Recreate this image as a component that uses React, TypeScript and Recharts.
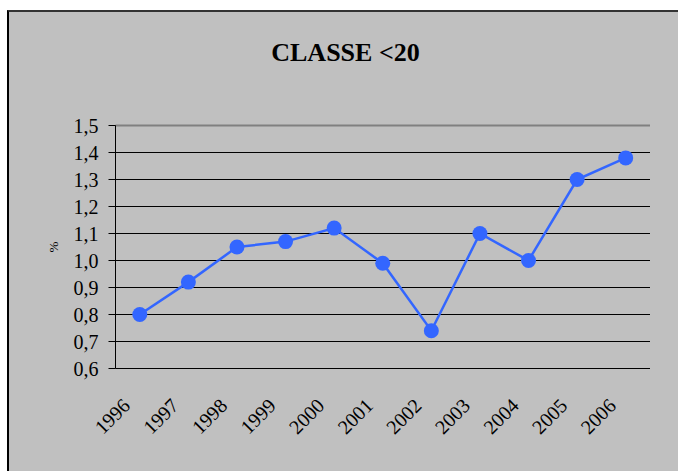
import {
	CartesianGrid,
	ComposedChart,
	Label,
	Line,
	ReferenceLine,
	XAxis,
	YAxis,
} from 'recharts';

const title = 'CLASSE <20';
const unit = '%';
const years = ['1996', '1997', '1998', '1999', '2000', '2001', '2002', '2003', '2004', '2005', '2006'];
const values = [0.8, 0.92, 1.05, 1.07, 1.12, 0.99, 0.74, 1.1, 1.0, 1.3, 1.38];
const yTicks = [0.6, 0.7, 0.8, 0.9, 1.0, 1.1, 1.2, 1.3, 1.4, 1.5];

const data = years.map((year, i) => ({ year, value: values[i] }));
// category boundaries, Excel puts its tick marks between the years
const bounds = years.map((_, i) => i).concat(years.length);

const serif = '"Liberation Serif", "Times New Roman", serif';
const blue = '#3366ff';

const YearTick = ({ x, y, payload }: any) => (
	<g transform={`translate(${x - 8.5},${y + 38.5}) rotate(-45)`}>
		<text textAnchor='end' fontFamily={serif} fontSize={20} fill='#000'>
			{payload.value}
		</text>
	</g>
);

const UnitLabel = ({ viewBox }: any) => {
	const cx = viewBox.x + 49;
	const cy = viewBox.y + viewBox.height / 2;
	return (
		<text
			x={cx}
			y={cy}
			transform={`rotate(-90, ${cx}, ${cy})`}
			textAnchor='middle'
			fontFamily={serif}
			fontSize={13}
			fill='#000'
		>
			{unit}
		</text>
	);
};

const App = () => {
	return (
		<div
			style={{
				position: 'absolute',
				left: 7,
				top: 10,
				width: 671,
				height: 461,
				boxSizing: 'border-box',
				borderTop: '2px solid #333',
				borderLeft: '2px solid #000',
				background: '#c0c0c0',
			}}
		>
			<div
				style={{
					position: 'absolute',
					top: 28,
					left: 0,
					right: 0,
					paddingLeft: 4,
					textAlign: 'center',
					fontFamily: serif,
					fontWeight: 'bold',
					fontSize: 26,
					lineHeight: '26px',
					color: '#000',
				}}
			>
				{title}
			</div>
			<ComposedChart
				width={669}
				height={459}
				data={data}
				margin={{ top: 113.5, right: 28, bottom: 0, left: 0 }}
			>
				<CartesianGrid vertical={false} stroke='#000' />
				<XAxis
					xAxisId={0}
					type='number'
					domain={[0, years.length]}
					ticks={bounds}
					tick={false}
					tickSize={7}
					height={0}
					allowDataOverflow
					axisLine={{ stroke: '#000' }}
					tickLine={{ stroke: '#000' }}
				/>
				<XAxis
					xAxisId='year'
					dataKey='year'
					scale='band'
					height={102.5}
					axisLine={false}
					tickLine={false}
					tickSize={0}
					tickMargin={0}
					interval={0}
					tick={<YearTick />}
				/>
				<YAxis
					domain={[0.6, 1.5]}
					ticks={yTicks}
					interval={0}
					width={106.5}
					tickSize={7}
					tickMargin={10}
					tickFormatter={(v: number) => v.toFixed(1).replace('.', ',')}
					tick={{ fontFamily: serif, fontSize: 20, fill: '#000' }}
					axisLine={{ stroke: '#000' }}
					tickLine={{ stroke: '#000' }}
				>
					<Label content={<UnitLabel />} />
				</YAxis>
				<ReferenceLine y={1.5} stroke='#808080' strokeWidth={2} />
				<ReferenceLine xAxisId={0} x={years.length} stroke='#808080' strokeWidth={2} />
				<Line
					xAxisId='year'
					dataKey='value'
					stroke={blue}
					strokeWidth={2.5}
					dot={{ r: 7.5, fill: blue, stroke: 'none' }}
					activeDot={false}
					isAnimationActive={false}
				/>
			</ComposedChart>
		</div>
	);
};

export default App;
